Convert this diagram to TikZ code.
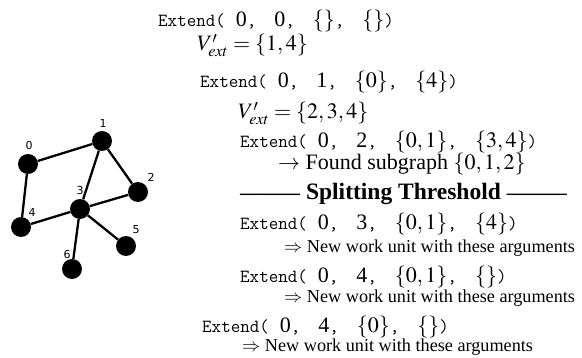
\documentclass[tikz,border=0pt]{standalone}
\usepackage{mathptmx}
\usepackage{fontspec}
\setmainfont{Liberation Serif}
\setsansfont{DejaVu Sans}
\usepackage{tikz}
\usetikzlibrary{positioning}
\newcommand{\Ext}{{\ttfamily\fontsize{18.5}{20}\selectfont Extend(}\hspace{11pt}}
\newcommand{\tsep}{{\ttfamily\fontsize{18.5}{20}\selectfont,}\hspace{18pt}}
\newcommand{\tend}{{\ttfamily\fontsize{18.5}{20}\selectfont)}}
\tikzset{
  vtx/.style={circle,fill=black,inner sep=0pt,minimum size=20pt},
  vlab/.style={font=\sffamily\fontsize{11}{11}\selectfont,inner sep=0pt},
  edge/.style={line width=2.3pt},
  codeln/.style={anchor=base west,inner sep=0pt,font=\fontsize{22}{24}\selectfont},
  noteln/.style={anchor=base west,inner sep=0pt,font=\fontsize{18.2}{20}\selectfont},
}

\begin{document}
\begin{tikzpicture}[x=1pt,y=-1pt]
\useasboundingbox (0,0) rectangle (582,358);

% --- Graph ---
\node[vtx] (v0) at (28,164) {};
\node[vtx] (v1) at (102,141) {};
\node[vtx] (v2) at (138,192) {};
\node[vtx] (v3) at (80,209) {};
\node[vtx] (v4) at (21,227) {};
\node[vtx] (v5) at (126,246) {};
\node[vtx] (v6) at (72,269) {};
\foreach \a/\b in {0/1,0/4,1/2,1/3,2/3,3/4,3/5,3/6}
  \draw[edge] (v\a) -- (v\b);
% vertex labels
\node[vlab] (l0) at (29,145) {0};
\node[vlab] (l1) at (103,123) {1};
\node[vlab] (l2) at (151,177) {2};
\node[vlab] (l3) at (80,190) {3};
\node[vlab] (l4) at (32,212) {4};
\node[vlab] (l5) at (136,230) {5};
\node[vlab] (l6) at (67,254) {6};

% --- Recursion trace ---
\node[codeln] (e1) at (158,27) {\Ext 0\tsep 0\tsep $\{\}$\tsep $\{\}$\tend};
\node[codeln] (x1) at (197,51) {$V'_{ext}=\{1,4\}$};
\node[codeln] (e2) at (200,88) {\Ext 0\tsep 1\tsep $\{0\}$\tsep $\{4\}$\tend};
\node[codeln] (x2) at (238,119) {$V'_{ext}=\{2,3,4\}$};
\node[codeln] (e3) at (240,148) {\Ext 0\tsep 2\tsep $\{0,1\}$\tsep $\{3,4\}$\tend};
\node[codeln] (f1) at (278,170) {$\rightarrow$ Found subgraph $\{0,1,2\}$};

% threshold
\node[codeln,font=\bfseries\fontsize{23.5}{25}\selectfont] (th) at (240,200)
  {{\fontsize{20}{20}\selectfont---------} Splitting Threshold {\fontsize{20}{20}\selectfont---------}};

% --- Split off work ---
\node[codeln] (e4) at (240,230) {\Ext 0\tsep 3\tsep $\{0,1\}$\tsep $\{4\}$\tend};
\node[noteln] (n1) at (284,253) {$\Rightarrow$ New work unit with these arguments};
\node[codeln] (e5) at (240,283) {\Ext 0\tsep 4\tsep $\{0,1\}$\tsep $\{\}$\tend};
\node[noteln] (n2) at (284,303) {$\Rightarrow$ New work unit with these arguments};
\node[codeln] (e6) at (202,333) {\Ext 0\tsep 4\tsep $\{0\}$\tsep $\{\}$\tend};
\node[noteln] (n3) at (242,352) {$\Rightarrow$ New work unit with these arguments};
\end{tikzpicture}
\end{document}
